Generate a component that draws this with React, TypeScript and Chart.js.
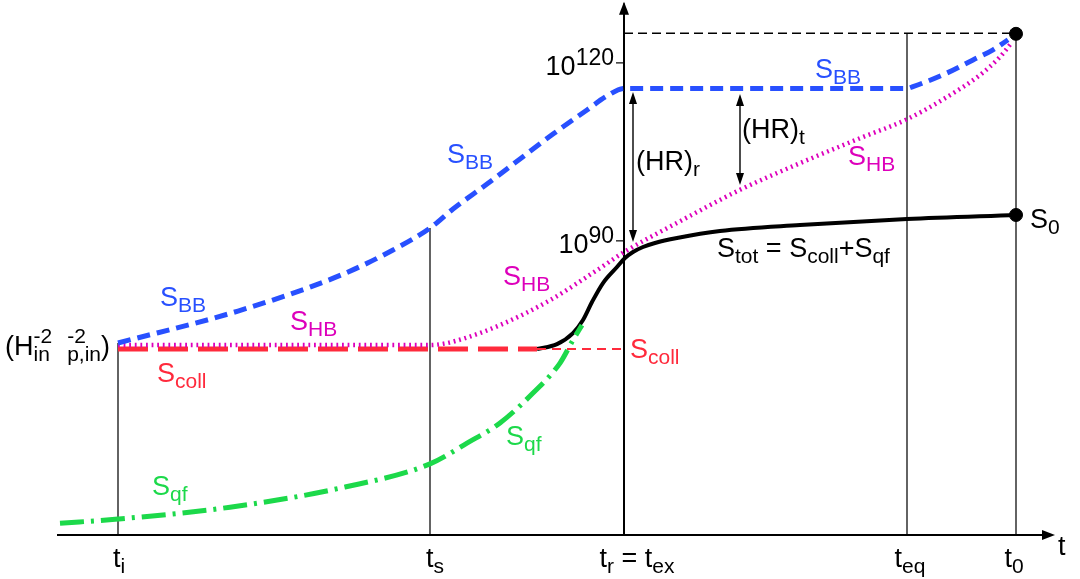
import React, { useEffect, useRef } from "react";
import { Chart, registerables } from "chart.js";
Chart.register(...registerables);

// ---- time marks (arbitrary time units) ----
const T_I = 11.8;
const T_S = 43.0;
const T_R = 62.4;
const T_EQ = 90.7;
const T_0 = 101.6;

// ---- entropy levels (log10 S) ----
const S_AXIS = 40.4; // level of the t axis
const S_INIT = 71.77; // (H_in^-2 l_p,in^-2)
const S_TOP = 125.0; // entropy bound today
const S_NOW = 94.36; // S_0

// S_BB : blue dashed
const bbT = [11.8, 23.8, 34.1, 39.3, 43.0, 45.3, 48.7, 52.0, 55.3, 58.7, 60.7, 62.4, 90.7, 91.3, 94.7, 97.3, 99.3, 100.8];
const bbS = [72.78, 78.17, 84.24, 88.46, 92.16, 95.37, 99.58, 103.8, 108.0, 112.06, 114.42, 115.7, 115.7, 116.0, 118.3, 120.5, 122.2, 123.9];

// S_HB : magenta dotted
const hbT = [11.8, 43.0, 44.5, 46.5, 50.0, 55.0, 60.0, 62.4, 68.0, 74.0, 80.0, 86.0, 90.7, 94.7, 98.0, 100.0, 101.2];
const hbS = [72.44, 72.44, 72.7, 73.6, 75.8, 80.0, 85.4, 88.1, 93.3, 98.6, 103.1, 107.3, 110.5, 114.25, 117.96, 121.0, 123.5];

// S_tot : black solid
const totT = [53.7, 55.7, 57.3, 58.3, 59.2, 60.3, 61.7, 62.5, 63.3, 64.3, 65.5, 67.7, 72.0, 80.0, 90.7, 101.6];
const totS = [71.77, 72.6, 74.46, 76.66, 79.69, 82.89, 85.59, 87.11, 88.12, 88.96, 89.64, 90.48, 91.66, 92.67, 93.68, 94.36];

// S_qf : green dash-dot
const qfT = [6.0, 11.8, 23.0, 34.5, 43.0, 46.7, 50.0, 53.3, 56.0, 57.3, 58.2];
const qfS = [42.4, 43.1, 45.1, 48.5, 52.4, 55.9, 59.3, 64.35, 69.4, 73.3, 75.8];

// S_coll : red dashed (thick part, then thin continuation)
const collT = [11.8, 53.7];
const collS = [S_INIT, S_INIT];
const collThinT = [53.7, 62.4];
const collThinS = [S_INIT, S_INIT];

// endpoint dots
const dotT = [T_0, T_0];
const dotS = [124.9, S_NOW];

// vertical guide lines: time and top level
const guideT = [T_I, T_S, T_EQ, T_0];
const guideTop = [72.78, 92.16, S_TOP, S_TOP];

// y tick labels
const yTickVals = [120, 90];
const yTickSup = ["120", "90"];

// x tick labels
const xTickPos = [11.9, 43.5, 63.7, 91.0, 101.4];
const xTickParts: any[] = [
  [["t"], ["i", "b"]],
  [["t"], ["s", "b"]],
  [["t"], ["r", "b"], [" = "], ["t"], ["ex", "b"]],
  [["t"], ["eq", "b"]],
  [["t"], ["0", "b"]],
];

const BLUE = "#2850ff";
const MAGENTA = "#dd00bb";
const RED = "#ff2a3c";
const GREEN = "#1cd94a";
const BLACK = "#000";
const FONT = "'Liberation Sans', Arial, sans-serif";
const BASE = 27;
const SMALL = 21;

const zip = (a: number[], b: number[]) => a.map((v, i) => ({ x: v, y: b[i] }));

// labels: [t, s, parts, color, align]
const labels: any[] = [
  [16.0, 79.0, [["S"], ["BB", "b"]], BLUE, "left"],
  [44.7, 103.1, [["S"], ["BB", "b"]], BLUE, "left"],
  [81.5, 117.45, [["S"], ["BB", "b"]], BLUE, "left"],
  [29.0, 75.0, [["S"], ["HB", "b"]], MAGENTA, "left"],
  [50.3, 82.55, [["S"], ["HB", "b"]], MAGENTA, "left"],
  [84.8, 102.8, [["S"], ["HB", "b"]], MAGENTA, "left"],
  [15.7, 66.2, [["S"], ["coll", "b"]], RED, "left"],
  [63.0, 70.25, [["S"], ["coll", "b"]], RED, "left"],
  [15.2, 47.15, [["S"], ["qf", "b"]], GREEN, "left"],
  [50.6, 55.6, [["S"], ["qf", "b"]], GREEN, "left"],
  [71.7, 87.3, [["S"], ["tot", "b"], [" = "], ["S"], ["coll", "b"], ["+"], ["S"], ["qf", "b"]], BLACK, "left"],
  [103.0, 92.2, [["S"], ["0", "b"]], BLACK, "left"],
  [63.6, 101.9, [["(HR)"], ["r", "b"]], BLACK, "left"],
  [74.2, 107.3, [["(HR)"], ["t", "b"]], BLACK, "left"],
  [0.5, 70.75, [["(H"], ["-2", "in", "s"], ["  "], ["-2", "p,in", "s"], [")"]], BLACK, "left"],
  [105.8, 37.0, [["t"]], BLACK, "left"],
];

function partWidth(ctx: CanvasRenderingContext2D, p: any[]) {
  if (p[2] === "s") {
    ctx.font = `${SMALL}px ${FONT}`;
    return Math.max(ctx.measureText(p[0]).width, ctx.measureText(p[1]).width);
  }
  ctx.font = `${p[1] ? SMALL : BASE}px ${FONT}`;
  return ctx.measureText(p[0]).width;
}

function drawRich(ctx: CanvasRenderingContext2D, x: number, y: number, parts: any[], color: string, align: string) {
  let total = 0;
  parts.forEach((p) => (total += partWidth(ctx, p)));
  let cx = align === "right" ? x - total : align === "center" ? x - total / 2 : x;
  ctx.fillStyle = color;
  ctx.textBaseline = "alphabetic";
  ctx.textAlign = "left";
  parts.forEach((p) => {
    const w = partWidth(ctx, p);
    if (p[2] === "s") {
      ctx.font = `${SMALL}px ${FONT}`;
      ctx.fillText(p[0], cx, y - 12);
      ctx.fillText(p[1], cx, y + 6);
    } else if (p[1] === "b") {
      ctx.font = `${SMALL}px ${FONT}`;
      ctx.fillText(p[0], cx, y + 6);
    } else {
      ctx.font = `${BASE}px ${FONT}`;
      ctx.fillText(p[0], cx, y);
    }
    cx += w;
  });
}

function seg(ctx: CanvasRenderingContext2D, x1: number, y1: number, x2: number, y2: number) {
  ctx.beginPath();
  ctx.moveTo(x1, y1);
  ctx.lineTo(x2, y2);
  ctx.stroke();
}

function head(ctx: CanvasRenderingContext2D, x: number, y: number, dx: number, dy: number, len: number, hw: number) {
  const bx = x - dx * len, by = y - dy * len;
  ctx.beginPath();
  ctx.moveTo(x, y);
  ctx.lineTo(bx - dy * hw, by + dx * hw);
  ctx.lineTo(bx + dy * hw, by - dx * hw);
  ctx.closePath();
  ctx.fill();
}

const schematic = {
  id: "schematic",
  beforeDatasetsDraw(chart: any) {
    const { ctx, scales } = chart;
    const X = (v: number) => scales.x.getPixelForValue(v);
    const Y = (v: number) => scales.y.getPixelForValue(v);
    ctx.save();
    ctx.strokeStyle = "#222";
    ctx.lineWidth = 1.4;
    guideT.forEach((t, i) => seg(ctx, X(t), Y(guideTop[i]), X(t), Y(S_AXIS)));
    ctx.strokeStyle = BLACK;
    ctx.setLineDash([9, 5]);
    ctx.lineWidth = 1.4;
    seg(ctx, X(T_R), Y(S_TOP), X(T_0), Y(S_TOP));
    ctx.setLineDash([]);
    // axes
    ctx.lineWidth = 2;
    ctx.fillStyle = BLACK;
    seg(ctx, X(5.7), Y(S_AXIS), X(105.0), Y(S_AXIS));
    head(ctx, X(105.5), Y(S_AXIS), 1, 0, 13, 5);
    seg(ctx, X(T_R), Y(S_AXIS), X(T_R), Y(130.0));
    head(ctx, X(T_R), Y(130.3), 0, -1, 13, 5);
    // y ticks
    ctx.lineWidth = 1.2;
    yTickVals.forEach((v) => seg(ctx, X(T_R) - 8, Y(v), X(T_R), Y(v)));
    ctx.restore();
  },
  afterDatasetsDraw(chart: any) {
    const { ctx, scales } = chart;
    const X = (v: number) => scales.x.getPixelForValue(v);
    const Y = (v: number) => scales.y.getPixelForValue(v);
    ctx.save();
    // double arrows
    ctx.strokeStyle = BLACK;
    ctx.fillStyle = BLACK;
    ctx.lineWidth = 1.4;
    const arrows = [
      [63.3, 115.1, 89.8],
      [74.0, 114.75, 99.4],
    ];
    arrows.forEach(([t, a, b]) => {
      seg(ctx, X(t), Y(a) + 4, X(t), Y(b) - 4);
      head(ctx, X(t), Y(a), 0, -1, 12, 4);
      head(ctx, X(t), Y(b), 0, 1, 12, 4);
    });
    // y tick labels
    yTickVals.forEach((v, i) => {
      const yy = Y(v) + 12;
      ctx.font = `${SMALL + 2}px ${FONT}`;
      const sw = ctx.measureText(yTickSup[i]).width;
      drawRich(ctx, X(T_R) - 10 - sw, yy, [["10"]], BLACK, "right");
      ctx.fillStyle = BLACK;
      ctx.font = `${SMALL + 2}px ${FONT}`;
      ctx.fillText(yTickSup[i], X(T_R) - 10 - sw, yy - 10);
    });
    // x tick labels
    xTickPos.forEach((t, i) => drawRich(ctx, X(t), Y(35.0), xTickParts[i], BLACK, "center"));
    // labels
    labels.forEach(([t, s, parts, color, align]) => drawRich(ctx, X(t), Y(s), parts, color, align));
    ctx.restore();
  },
};

export default function App() {
  const ref = useRef<HTMLCanvasElement>(null);
  useEffect(() => {
    document.body.style.margin = "0";
    const common = { pointRadius: 0, fill: false, cubicInterpolationMode: "monotone" as const, borderCapStyle: "butt" as const };
    const chart = new Chart(ref.current!, {
      type: "line",
      data: {
        datasets: [
          { ...common, data: zip(bbT, bbS), borderColor: BLUE, borderWidth: 5, borderDash: [13, 7] },
          { ...common, data: zip(hbT, hbS), borderColor: MAGENTA, borderWidth: 4.5, borderDash: [1.8, 3.8] },
          { ...common, data: zip(collT, collS), borderColor: RED, borderWidth: 5, borderDash: [30, 10] },
          { ...common, data: zip(collThinT, collThinS), borderColor: RED, borderWidth: 2, borderDash: [9, 6] },
          { ...common, data: zip(qfT, qfS), borderColor: GREEN, borderWidth: 5, borderDash: [24, 7, 3, 7] },
          { ...common, data: zip(totT, totS), borderColor: BLACK, borderWidth: 4 },
          { data: zip(dotT, dotS), showLine: false, pointRadius: 6.5, pointBackgroundColor: BLACK, pointBorderColor: BLACK },
        ] as any,
      },
      options: {
        animation: false,
        responsive: false,
        devicePixelRatio: 1,
        layout: { padding: 0, autoPadding: false },
        plugins: { legend: { display: false }, tooltip: { enabled: false } },
        scales: {
          x: { type: "linear", display: false, min: 0, max: 108 },
          y: { type: "linear", display: false, min: 33, max: 130.6 },
        },
      },
      plugins: [schematic],
    });
    return () => chart.destroy();
  }, []);
  return (
    <div style={{ position: "absolute", left: 0, top: 0, width: 1080, height: 579, background: "#fff" }}>
      <canvas ref={ref} width={1080} height={579} />
    </div>
  );
}
